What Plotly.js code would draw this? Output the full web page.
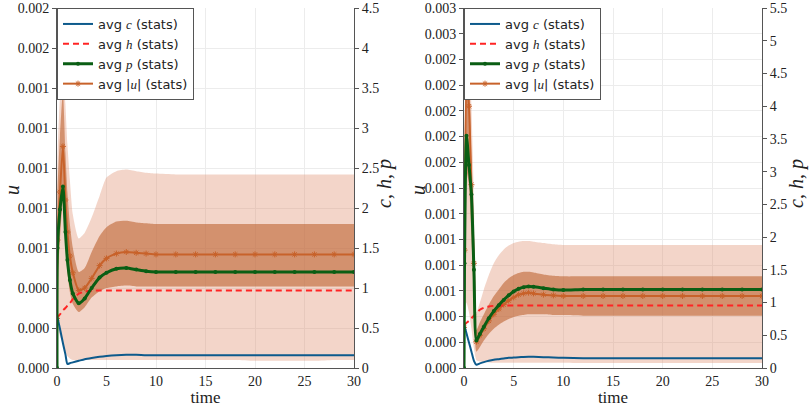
<!DOCTYPE html>
<html>
<head>
<meta charset="utf-8">
<script src="https://cdn.plot.ly/plotly-3.0.1.min.js"></script>
<style>
  html, body { margin: 0; padding: 0; background: #fff; }
  #chart { width: 809px; height: 407px; }
</style>
</head>
<body>
<div id="chart"></div>
<script>
// left run: time grid and averages (c, h, p read on the right axis)
var tL = [0, 0.05, 0.3, 0.6, 0.85, 1.05, 1.3, 1.6, 2.2, 2.8, 3.5, 4.3, 5, 6, 7, 8, 9, 10, 12, 14, 16, 18, 20, 22, 24, 26, 28, 30];
var cL = [0.66, 0.63, 0.49, 0.31, 0.17, 0.05, 0.06, 0.07, 0.09, 0.11, 0.125, 0.14, 0.15, 0.16, 0.165, 0.165, 0.16, 0.16, 0.16, 0.16, 0.16, 0.16, 0.16, 0.16, 0.16, 0.16, 0.16, 0.16];
var hL = [0.63, 0.64, 0.67, 0.72, 0.75, 0.78, 0.81, 0.86, 0.93, 0.955, 0.965, 0.97, 0.97, 0.97, 0.97, 0.97, 0.97, 0.97, 0.97, 0.97, 0.97, 0.97, 0.97, 0.97, 0.97, 0.97, 0.97, 0.97];
var pL = [0, 1.5, 1.98, 2.27, 1.7, 1.35, 1.1, 0.93, 0.81, 0.87, 1.0, 1.13, 1.19, 1.24, 1.25, 1.23, 1.21, 1.2, 1.2, 1.2, 1.2, 1.2, 1.2, 1.2, 1.2, 1.2, 1.2, 1.2];
// left run: |u| mean and its two bands (u units)
var uL = [0.00031, 0.0008, 0.0011, 0.001385, 0.00105, 0.00085, 0.0007, 0.000595, 0.000485, 0.0005, 0.00056, 0.00064, 0.000685, 0.000715, 0.000725, 0.00072, 0.000715, 0.00071, 0.00071, 0.00071, 0.00071, 0.00071, 0.00071, 0.00071, 0.00071, 0.00071, 0.00071, 0.00071];
var uInHiL = [0.00034, 0.0011, 0.00145, 0.001725, 0.00135, 0.0011, 0.0009, 0.00075, 0.0006, 0.000625, 0.000725, 0.000825, 0.00088, 0.000915, 0.00092, 0.00091, 0.000905, 0.0009, 0.0009, 0.0009, 0.0009, 0.0009, 0.0009, 0.0009, 0.0009, 0.0009, 0.0009, 0.0009];
var uInLoL = [0.00028, 0.00055, 0.0008, 0.00105, 0.0008, 0.0006, 0.000475, 0.0004, 0.00035, 0.00038, 0.00044, 0.00048, 0.0005, 0.00051, 0.000515, 0.00051, 0.00051, 0.00051, 0.00051, 0.00051, 0.00051, 0.00051, 0.00051, 0.00051, 0.00051, 0.00051, 0.00051, 0.00051];
var uOutHiL = [0.000375, 0.0013, 0.0017, 0.001975, 0.00165, 0.0014, 0.001175, 0.00096, 0.00081, 0.000845, 0.00094, 0.001075, 0.00119, 0.00123, 0.00124, 0.00123, 0.00122, 0.001215, 0.00121, 0.00121, 0.00121, 0.00121, 0.00121, 0.00121, 0.00121, 0.00121, 0.00121, 0.00121];
var uOutLoL = [0.00025, 0.00025, 0.0002, 0.00015, 0.0001, 0.000075, 0.00006, 0.00005, 0.00005, 0.00005, 0.00005, 0.00005, 0.00005, 0.00005, 0.00005, 0.00005, 0.00005, 0.00005, 0.00005, 0.00005, 0.00005, 0.00005, 0.000045, 0.000045, 0.000045, 0.000045, 0.00005, 0.00005];

// right run
var tR = [0, 0.05, 0.25, 0.5, 0.75, 1.0, 1.25, 1.6, 2, 2.5, 3, 3.5, 4, 4.5, 5, 5.5, 6, 6.5, 7, 8, 9, 10, 12, 14, 16, 18, 20, 22, 24, 26, 28, 30];
var cR = [0.67, 0.64, 0.53, 0.39, 0.25, 0.11, 0.05, 0.07, 0.09, 0.11, 0.125, 0.135, 0.145, 0.155, 0.16, 0.165, 0.168, 0.17, 0.17, 0.165, 0.16, 0.155, 0.15, 0.15, 0.15, 0.15, 0.15, 0.15, 0.15, 0.15, 0.15, 0.15];
var hR = [0.66, 0.66, 0.69, 0.72, 0.76, 0.8, 0.84, 0.89, 0.92, 0.94, 0.95, 0.955, 0.955, 0.955, 0.955, 0.955, 0.955, 0.955, 0.955, 0.955, 0.955, 0.955, 0.955, 0.955, 0.955, 0.955, 0.955, 0.955, 0.955, 0.955, 0.955, 0.955];
var pR = [0, 1.6, 3.55, 3.1, 2.65, 1.5, 0.42, 0.52, 0.63, 0.76, 0.87, 0.96, 1.04, 1.11, 1.17, 1.21, 1.235, 1.245, 1.24, 1.22, 1.2, 1.19, 1.2, 1.2, 1.2, 1.2, 1.2, 1.2, 1.2, 1.2, 1.2, 1.2];
var uR = [0.000395, 0.001146, 0.0028, 0.002545, 0.001782, 0.001018, 0.000255, 0.000318, 0.000382, 0.000458, 0.000522, 0.000573, 0.000617, 0.000655, 0.000687, 0.000713, 0.000725, 0.000732, 0.000725, 0.000713, 0.000706, 0.0007, 0.0007, 0.0007, 0.0007, 0.0007, 0.0007, 0.0007, 0.0007, 0.0007, 0.0007, 0.0007];
var uInHiR = [0.000445, 0.00159, 0.00318, 0.00293, 0.002036, 0.001209, 0.000369, 0.000445, 0.000522, 0.000617, 0.0007, 0.000764, 0.000827, 0.000872, 0.000904, 0.000923, 0.000935, 0.000935, 0.000929, 0.00091, 0.000897, 0.000891, 0.000891, 0.000891, 0.000891, 0.000891, 0.000891, 0.000891, 0.000891, 0.000891, 0.000891, 0.000891];
var uInLoR = [0.00035, 0.000764, 0.00191, 0.001782, 0.001273, 0.000636, 0.000159, 0.000204, 0.000267, 0.000331, 0.000382, 0.00042, 0.000452, 0.000477, 0.000496, 0.000509, 0.000515, 0.000522, 0.000522, 0.000522, 0.000515, 0.000515, 0.000509, 0.000509, 0.000509, 0.000509, 0.000509, 0.000509, 0.000509, 0.000509, 0.000509, 0.000509];
var uOutHiR = [0.000477, 0.001909, 0.003564, 0.003373, 0.002545, 0.001655, 0.000541, 0.000636, 0.000764, 0.000904, 0.001018, 0.001095, 0.001152, 0.00119, 0.001215, 0.001228, 0.001235, 0.001235, 0.001228, 0.001215, 0.001203, 0.001196, 0.001196, 0.001196, 0.001196, 0.001196, 0.001196, 0.001196, 0.001196, 0.001196, 0.001196, 0.001196];
var uOutLoR = [0.00035, 0.000382, 0.000636, 0.000541, 0.000382, 0.000191, 0.0000764, 0.0000636, 0.0000573, 0.0000541, 0.0000509, 0.0000509, 0.0000509, 0.0000509, 0.0000509, 0.0000509, 0.0000509, 0.0000509, 0.0000509, 0.0000509, 0.0000509, 0.0000509, 0.0000477, 0.0000477, 0.0000477, 0.0000477, 0.0000477, 0.0000477, 0.0000477, 0.0000477, 0.0000477, 0.0000477];

// tick labels
var timeTicks = [0, 5, 10, 15, 20, 25, 30];
var uTickValsL = [0, 0.00025, 0.0005, 0.00075, 0.001, 0.00125, 0.0015, 0.00175, 0.002, 0.00225];
var uTickTextL = ['0.000', '0.000', '0.000', '0.001', '0.001', '0.001', '0.001', '0.001', '0.002', '0.002'];
var uTickValsR = [0, 0.00025, 0.0005, 0.00075, 0.001, 0.00125, 0.0015, 0.00175, 0.002, 0.00225, 0.0025, 0.00275, 0.003, 0.00325, 0.0035];
var uTickTextR = ['0.000', '0.000', '0.000', '0.001', '0.001', '0.001', '0.001', '0.001', '0.002', '0.002', '0.002', '0.002', '0.002', '0.003', '0.003'];

var serif = 'Liberation Serif';
var mi = function(s) { return '<span style="font-family:Liberation Serif"><i>' + s + '</i></span>'; };

var colC = '#0d5a8c', colH = '#ff2424', colP = '#0a5e14', colU = '#c8622a';
var lightFill = 'rgba(225,150,120,0.40)';
var darkFill = 'rgba(190,100,50,0.60)';

function runTraces(t, c, h, p, u, inHi, inLo, outHi, outLo, xa, ya, ya2, leg) {
  var band = function(y, fill, col) {
    return {x: t, y: y, xaxis: xa, yaxis: ya, mode: 'lines', line: {width: 0, shape: 'spline', smoothing: 0.6},
            fill: fill, fillcolor: col, showlegend: false, hoverinfo: 'skip'};
  };
  return [
    band(outLo, 'none', lightFill),
    band(outHi, 'tonexty', lightFill),
    band(inLo, 'none', darkFill),
    band(inHi, 'tonexty', darkFill),
    {x: t, y: u, xaxis: xa, yaxis: ya, mode: 'lines+markers', name: 'avg |' + mi('u') + '| (stats)',
     line: {color: colU, width: 2, shape: 'spline', smoothing: 0.6},
     marker: {symbol: 'asterisk', size: 5, line: {color: colU, width: 1}},
     legend: leg, legendrank: 4},
    {x: t, y: c, xaxis: xa, yaxis: ya2, mode: 'lines', name: 'avg ' + mi('c') + ' (stats)',
     line: {color: colC, width: 2, shape: 'spline', smoothing: 0.6}, legend: leg, legendrank: 1},
    {x: t, y: h, xaxis: xa, yaxis: ya2, mode: 'lines', name: 'avg ' + mi('h') + ' (stats)',
     line: {color: colH, width: 2, dash: '6px,4px', shape: 'spline', smoothing: 0.6}, legend: leg, legendrank: 2},
    {x: t, y: p, xaxis: xa, yaxis: ya2, mode: 'lines+markers', name: 'avg ' + mi('p') + ' (stats)',
     line: {color: colP, width: 3, shape: 'spline', smoothing: 0.6},
     marker: {symbol: 'circle', size: 4, color: colP}, legend: leg, legendrank: 3}
  ];
}

var data = runTraces(tL, cL, hL, pL, uL, uInHiL, uInLoL, uOutHiL, uOutLoL, 'x', 'y', 'y2', 'legend')
  .concat(runTraces(tR, cR, hR, pR, uR, uInHiR, uInLoR, uOutHiR, uOutLoR, 'x2', 'y3', 'y4', 'legend2'));

var tickFont = {family: serif, size: 14, color: '#222'};
var ydom = [39 / 407, 399 / 407];

function xAxis(dom, anchor) {
  return {domain: dom, anchor: anchor, range: [0, 30], tickvals: timeTicks, ticks: '',
          showline: true, linecolor: '#555', linewidth: 1, showgrid: true, gridcolor: '#ececec',
          zeroline: false, tickfont: tickFont,
          title: {text: 'time', font: {family: serif, size: 17, color: '#222'}, standoff: 2}};
}
function uAxis(anchor, top, vals, text) {
  return {domain: ydom, anchor: anchor, range: [0, top], tickvals: vals, ticktext: text,
          ticks: 'outside', ticklen: 4, tickcolor: '#555', showline: true, linecolor: '#555',
          showgrid: true, gridcolor: '#ececec', zeroline: false, tickfont: tickFont};
}
function chpAxis(over, anchor, top) {
  return {overlaying: over, anchor: anchor, side: 'right', range: [0, top], dtick: 0.5, tick0: 0,
          ticks: 'outside', ticklen: 4, tickcolor: '#555', showline: true, linecolor: '#555',
          showgrid: false, zeroline: false, tickfont: tickFont};
}
function legendBox(x) {
  return {x: x, y: 399 / 407, xanchor: 'left', yanchor: 'top', bgcolor: '#fff', traceorder: 'normal',
          bordercolor: '#555', borderwidth: 1, itemwidth: 30, tracegroupgap: 0,
          font: {family: 'DejaVu Sans', size: 13, color: '#222'}};
}
// rotated axis titles placed beside the tick labels
function sideTitle(text, px, py) {
  return {xref: 'paper', yref: 'paper', x: px / 809, y: 1 - py / 407, text: text, textangle: -90,
          showarrow: false, xanchor: 'center', yanchor: 'middle',
          font: {family: serif, size: 20, color: '#222'}};
}

var layout = {
  width: 809, height: 407,
  margin: {l: 0, r: 0, t: 0, b: 0},
  paper_bgcolor: '#fff', plot_bgcolor: '#fff',
  showlegend: true,
  xaxis: xAxis([57 / 809, 354 / 809], 'y'),
  yaxis: uAxis('x', 0.00225, uTickValsL, uTickTextL),
  yaxis2: chpAxis('y', 'x', 4.5),
  xaxis2: xAxis([464 / 809, 762 / 809], 'y3'),
  yaxis3: uAxis('x2', 0.0035, uTickValsR, uTickTextR),
  yaxis4: chpAxis('y3', 'x2', 5.5),
  legend: legendBox(57 / 809),
  legend2: legendBox(464 / 809),
  annotations: [
    sideTitle('<i>u</i>', 12, 190),
    sideTitle('<i>c</i>, <i>h</i>, <i>p</i>', 385, 184),
    sideTitle('<i>u</i>', 418, 190),
    sideTitle('<i>c</i>, <i>h</i>, <i>p</i>', 797, 184)
  ]
};

Plotly.newPlot('chart', data, layout, {displayModeBar: false, staticPlot: true});
</script>
</body>
</html>
